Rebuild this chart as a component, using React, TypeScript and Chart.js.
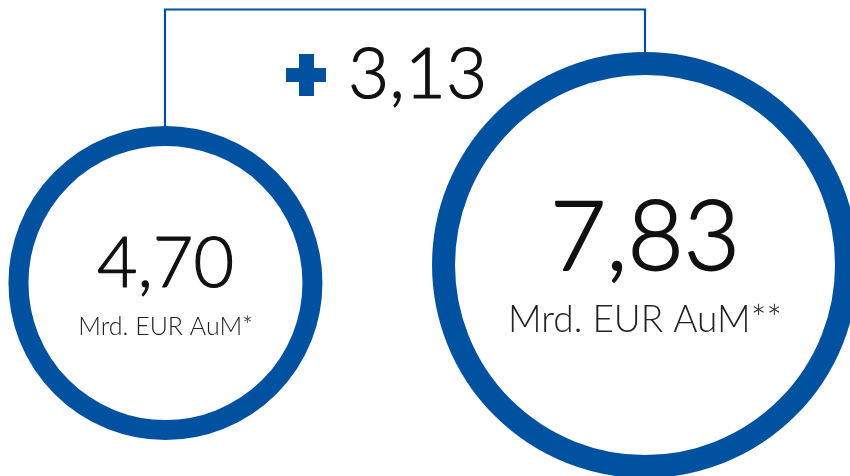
import React, { useEffect, useRef } from "react";
import { Chart, registerables } from "chart.js";

Chart.register(...registerables);

const categories = ["Vorher", "Nachher"];
const aumValues = [4.7, 7.83];
const unitLabels = ["Mrd. EUR AuM*", "Mrd. EUR AuM**"];

const BLUE = "#0051A0";
const TEXT = "#111111";
const FONT = "Lato, 'Open Sans', sans-serif";

const fmt = (v: number) => v.toFixed(2).replace(".", ",");

const ringRadius = [147, 201.5];
const ringWidth = [20, 23];
const valueFontSize = [70, 97];
const valueStroke = [1.2, 1.8];
const valueOffset = [4, 5];
const unitFontSize = [25, 37];
const unitOffset = [52, 67];

const bracketPlugin = {
  id: "bracket",
  beforeDatasetsDraw(chart: any) {
    const meta = chart.getDatasetMeta(0);
    const p0 = meta.data[0];
    const p1 = meta.data[1];
    if (!p0 || !p1) return;
    const ctx = chart.ctx;
    const topY = 9.5;
    const x0 = Math.round(p0.x);
    const x1 = Math.round(p1.x);
    ctx.save();
    ctx.strokeStyle = BLUE;
    ctx.lineWidth = 2.2;
    ctx.beginPath();
    ctx.moveTo(x0, p0.y);
    ctx.lineTo(x0, topY);
    ctx.lineTo(x1, topY);
    ctx.lineTo(x1, p1.y);
    ctx.stroke();
    ctx.restore();
  },
  afterDatasetsDraw(chart: any) {
    const meta = chart.getDatasetMeta(0);
    const p0 = meta.data[0];
    const p1 = meta.data[1];
    if (!p0 || !p1) return;
    const ctx = chart.ctx;
    ctx.save();
    ctx.lineJoin = "round";

    // delta label "+ 3,13"
    const delta = aumValues[1] - aumValues[0];
    const mid = (Math.round(p0.x) + Math.round(p1.x)) / 2;
    const plusLeft = mid - 119;
    ctx.fillStyle = BLUE;
    ctx.fillRect(plusLeft + 13, 54, 15, 42);
    ctx.fillRect(plusLeft, 68, 40, 14);
    ctx.fillStyle = TEXT;
    ctx.strokeStyle = TEXT;
    ctx.font = `300 71px ${FONT}`;
    ctx.textAlign = "left";
    ctx.textBaseline = "alphabetic";
    ctx.lineWidth = 1.2;
    ctx.fillText(fmt(delta), plusLeft + 62, 98);
    ctx.strokeText(fmt(delta), plusLeft + 62, 98);

    ctx.textAlign = "center";
    meta.data.forEach((pt: any, i: number) => {
      ctx.fillStyle = TEXT;
      ctx.strokeStyle = TEXT;
      ctx.font = `300 ${valueFontSize[i]}px ${FONT}`;
      ctx.lineWidth = valueStroke[i];
      ctx.fillText(fmt(aumValues[i]), pt.x, pt.y + valueOffset[i]);
      ctx.strokeText(fmt(aumValues[i]), pt.x, pt.y + valueOffset[i]);
      ctx.font = `300 ${unitFontSize[i]}px ${FONT}`;
      ctx.fillStyle = "#222222";
      ctx.fillText(unitLabels[i], pt.x, pt.y + unitOffset[i]);
    });
    ctx.restore();
  },
};

export default function App() {
  const canvasRef = useRef<HTMLCanvasElement | null>(null);

  useEffect(() => {
    document.body.style.margin = "0";
    const canvas = canvasRef.current;
    if (!canvas) return;
    const chart = new Chart(canvas, {
      type: "scatter",
      data: {
        labels: categories,
        datasets: [
          {
            label: "AuM",
            data: aumValues.map((v, i) => ({ x: i, y: v })),
            pointRadius: ringRadius,
            pointHoverRadius: ringRadius,
            pointBorderWidth: ringWidth,
            pointHoverBorderWidth: ringWidth,
            pointBackgroundColor: "#ffffff",
            pointBorderColor: BLUE,
            pointHoverBackgroundColor: "#ffffff",
            pointHoverBorderColor: BLUE,
            clip: false,
          } as any,
        ],
      },
      options: {
        animation: false,
        responsive: false,
        events: [],
        layout: { padding: 0, autoPadding: false } as any,
        plugins: {
          legend: { display: false },
          tooltip: { enabled: false },
          title: { display: false },
        },
        scales: {
          x: { type: "linear", display: false, min: -0.345, max: 1.4274 },
          y: { type: "linear", display: false, min: -28.86, max: 53.91 },
        },
      },
      plugins: [bracketPlugin],
    });
    return () => chart.destroy();
  }, []);

  return (
    <div style={{ position: "absolute", left: 0, top: 0, width: 850, height: 476, background: "#ffffff" }}>
      <canvas ref={canvasRef} width={850} height={476} style={{ display: "block" }} />
    </div>
  );
}
